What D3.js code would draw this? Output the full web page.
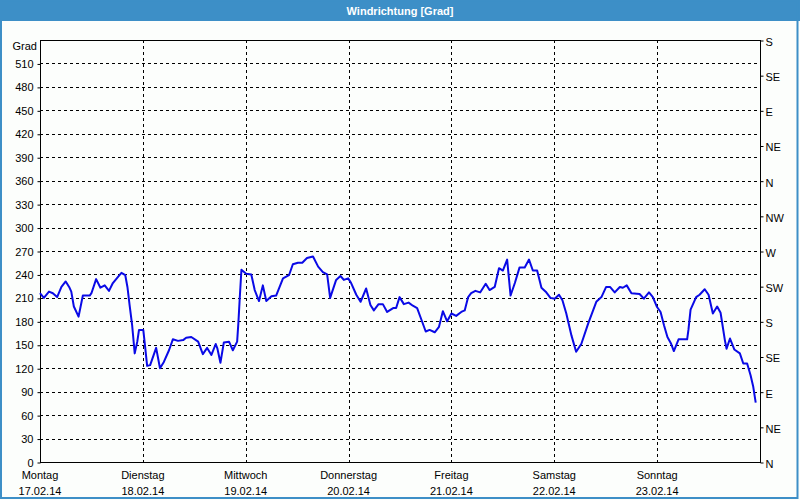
<!DOCTYPE html>
<html>
<head>
<meta charset="utf-8">
<script src="https://cdn.jsdelivr.net/npm/d3@7"></script>
<style>
  html, body { margin: 0; padding: 0; background: #fcfefc; }
  svg { display: block; }
  text { font-family: "Liberation Sans", Arial, sans-serif; font-size: 11px; fill: #000; }
</style>
</head>
<body>
<svg id="chart" width="800" height="500"></svg>
<script>
const title = "Windrichtung [Grad]";
const yUnit = "Grad";
const dayNames = ["Montag", "Dienstag", "Mittwoch", "Donnerstag", "Freitag", "Samstag", "Sonntag"];
const dayDates = ["17.02.14", "18.02.14", "19.02.14", "20.02.14", "21.02.14", "22.02.14", "23.02.14"];
const yTicks = [0, 30, 60, 90, 120, 150, 180, 210, 240, 270, 300, 330, 360, 390, 420, 450, 480, 510];
const compassTicks = [0, 45, 90, 135, 180, 225, 270, 315, 360, 405, 450, 495, 540];
const compassLabels = ["N", "NE", "E", "SE", "S", "SW", "W", "NW", "N", "NE", "E", "SE", "S"];

// hours since Monday 00:00
const hours = [0, 0.9, 2.1, 3.0, 4.0, 5.0, 6.0, 6.8, 7.3, 7.9, 9.0, 10.0, 11.6, 12.0, 13.1, 14.1, 15.1, 16.1, 17.0, 18.2, 19.0, 19.9, 20.4, 20.9, 21.5, 22.1, 22.7, 23.1, 24.1, 24.4, 25.0, 25.7, 27.1, 28.0, 28.9, 30.1, 31.0, 32.2, 33.4, 34.1,
  35.3, 36.9, 38.0, 39.0, 40.0, 41.0, 41.4, 42.1, 42.9, 44.1, 45.0, 46.0, 46.3, 46.6, 47.0, 48.1, 49.3, 50.1, 51.1, 52.0, 52.8, 54.0, 55.1, 56.7, 58.1, 59.0, 60.2, 61.2, 62.3, 63.7, 64.9, 66.0, 67.0, 67.7,
  69.1, 70.1, 70.9, 71.9, 72.6, 73.8, 74.8, 76.1, 77.1, 77.9, 79.0, 80.0, 81.0, 82.4, 83.1, 83.9, 84.9, 86.0, 87.0, 88.0, 89.0, 90.0, 90.9, 92.1, 93.1, 94.0, 95.0, 96.0, 97.1, 98.3, 99.1, 99.9, 100.6, 101.6,
  102.7, 104.0, 104.9, 106.1, 107.1, 108.0, 109.0, 109.8, 110.8, 111.9, 113.1, 114.1, 115.0, 116.0, 117.0, 118.0, 119.1, 120.1, 121.1, 121.9, 122.8, 124.0, 125.1, 126.3, 127.9, 129.8, 131.0, 132.1, 133.0, 134.1, 135.3,
  136.0, 136.9, 138.0, 139.9, 140.9, 142.1, 143.0, 143.9, 144.8, 145.6, 146.4, 147.2, 147.9, 149.0, 151.0, 151.3, 151.8, 153.1, 153.9, 155.1, 156.0, 157.0, 158.0, 158.8, 159.8, 160.2, 161.0, 162.0, 163.3, 164.1, 165.0, 165.8, 166.4, 167.0];
const direction = [216, 210, 218, 216, 211, 224, 231, 224, 218, 199, 186, 213, 213, 216, 234, 223, 226, 219, 229, 237, 242, 239, 224, 201, 175, 139, 154, 169, 169, 154, 123, 124, 146, 120, 128, 143, 157, 155, 156, 159,
  160, 154, 138, 146, 137, 151, 145, 127, 153, 154, 143, 154, 179, 209, 246, 241, 240, 220, 206, 226, 206, 212, 213, 235, 239, 253, 255, 255, 261, 263, 250, 243, 240, 210,
  233, 238, 233, 235, 229, 214, 205, 222, 201, 194, 202, 202, 192, 197, 197, 211, 202, 204, 200, 197, 182, 167, 169, 166, 173, 193, 180, 190, 187, 192, 194, 211, 216, 219,
  217, 228, 220, 224, 248, 245, 259, 213, 229, 249, 249, 259, 245, 245, 223, 218, 210, 209, 214, 207, 190, 162, 141, 151, 177, 205, 211, 224, 224, 217, 224,
  223, 226, 216, 215, 209, 217, 211, 199, 192, 175, 160, 152, 142, 157, 157, 169, 195, 211, 214, 221, 214, 190, 199, 191, 156, 145, 158, 144, 139, 126, 126, 111, 97, 76];

const svg = d3.select("#chart");
const W = 800, H = 500;
const L = 40, R = 760, T = 40, B = 462;

const x = d3.scaleLinear().domain([0, 168]).range([L, R]);
const y = d3.scaleLinear().domain([0, 540]).range([B, T]);

svg.append("rect").attr("x", 0).attr("y", 0).attr("width", W).attr("height", H).attr("fill", "#fcfefc");
// title bar
svg.append("rect").attr("x", 0).attr("y", 0).attr("width", W).attr("height", 21).attr("fill", "#3d8fc7");
svg.append("text").attr("x", 400).attr("y", 14.5).attr("text-anchor", "middle")
  .style("fill", "#fff").style("font-weight", "bold").text(title);
// outer border
svg.append("rect").attr("x", 1).attr("y", 0.5).attr("width", 796.5).attr("height", 497.5)
  .attr("fill", "none").attr("stroke", "#3d8fc7").attr("stroke-width", 2);

// grid
const g = svg.append("g");
g.selectAll("line.h").data(yTicks.filter(v => v > 0)).enter().append("line")
  .attr("x1", L).attr("x2", R)
  .attr("y1", d => Math.round(y(d)) + 0.5).attr("y2", d => Math.round(y(d)) + 0.5)
  .attr("stroke", "#000").attr("stroke-dasharray", "3,3").attr("stroke-width", 1);
g.selectAll("line.v").data(d3.range(1, 7)).enter().append("line")
  .attr("y1", T).attr("y2", B)
  .attr("x1", d => Math.round(x(d * 24)) + 0.5).attr("x2", d => Math.round(x(d * 24)) + 0.5)
  .attr("stroke", "#000").attr("stroke-dasharray", "3,3").attr("stroke-width", 1);

// frame
svg.append("rect").attr("x", L + 0.5).attr("y", T + 0.5).attr("width", R - L).attr("height", B - T)
  .attr("fill", "none").attr("stroke", "#000").attr("stroke-width", 1);

// left axis
const yAxis = d3.axisLeft(y).tickValues(yTicks).tickSize(3).tickPadding(4).tickFormat(d3.format("d"));
const ya = svg.append("g").attr("transform", `translate(${L + 0.5},0.5)`).call(yAxis);
ya.select(".domain").remove();
ya.selectAll("text").style("font-family", "'Liberation Sans', Arial, sans-serif").style("font-size", "11px");
svg.append("text").attr("x", 37).attr("y", 50).attr("text-anchor", "end").text(yUnit);

// right axis
const yAxisR = d3.axisRight(y).tickValues(compassTicks).tickSize(3).tickPadding(2)
  .tickFormat((d, i) => compassLabels[i]);
const yr = svg.append("g").attr("transform", `translate(${R + 0.5},0.5)`).call(yAxisR);
yr.select(".domain").remove();
yr.selectAll("text").attr("dy", "0.45em").style("font-family", "'Liberation Sans', Arial, sans-serif").style("font-size", "11px");

// bottom labels
const xa = svg.append("g");
xa.selectAll("text.day").data(dayNames).enter().append("text")
  .attr("x", (d, i) => x(i * 24)).attr("y", 479).attr("text-anchor", "middle").text(d => d);
xa.selectAll("text.date").data(dayDates).enter().append("text")
  .attr("x", (d, i) => x(i * 24)).attr("y", 495).attr("text-anchor", "middle").text(d => d);

// data line
const pts = hours.map((h, i) => [h, direction[i]]);
svg.append("path").datum(pts)
  .attr("fill", "none").attr("stroke", "#0a0ae6").attr("stroke-width", 2)
  .attr("stroke-linejoin", "round")
  .attr("d", d3.line().x(d => x(d[0])).y(d => y(d[1])));
</script>
</body>
</html>
